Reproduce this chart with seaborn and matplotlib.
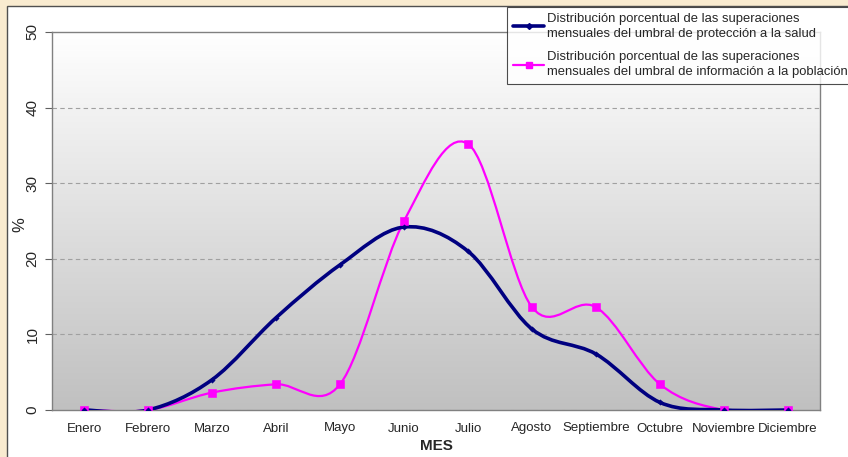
import numpy as np
import pandas as pd
import matplotlib
matplotlib.use("Agg")
import matplotlib.pyplot as plt
import seaborn as sns
from matplotlib.path import Path
from matplotlib.patches import PathPatch, Rectangle
from matplotlib.lines import Line2D

# Data
meses = ["Enero", "Febrero", "Marzo", "Abril", "Mayo", "Junio", "Julio",
         "Agosto", "Septiembre", "Octubre", "Noviembre", "Diciembre"]
salud = [0, 0, 4.0, 12.2, 19.2, 24.2, 21.0, 10.7, 7.4, 1.0, 0, 0]
informacion = [0, 0, 2.3, 3.4, 3.4, 25.0, 35.2, 13.6, 13.6, 3.4, 0, 0]

lbl_salud = ("Distribución porcentual de las superaciones\n"
             "mensuales del umbral de protección a la salud")
lbl_info = ("Distribución porcentual de las superaciones\n"
            "mensuales del umbral de información a la población")

col_salud = "#000080"
col_info = "#ff00ff"

df = pd.DataFrame({"mes": np.arange(len(meses)), "salud": salud, "info": informacion})

sns.set_style("white")
plt.rcParams["font.family"] = ["Liberation Sans", "DejaVu Sans"]

W, H = 848, 457
fig = plt.figure(figsize=(W / 100, H / 100), dpi=100)
fig.patch.set_facecolor("#f9ebd0")
# white chart frame
fig.patches.append(Rectangle((7 / W, -0.05), 1.05, 1 - 6 / H + 0.05, transform=fig.transFigure,
                             facecolor="white", edgecolor="#505050", linewidth=1.0, zorder=-10))

ax = fig.add_axes([52 / W, (H - 410) / H, (820 - 52) / W, (410 - 32) / H])
ax.set_xlim(-0.5, 11.5)
ax.set_ylim(0, 50)

# gradient plot area
grad = np.linspace(1.0, 0.0, 256).reshape(-1, 1)
ax.imshow(grad, extent=(-0.5, 11.5, 0, 50), aspect="auto", origin="upper",
          cmap=matplotlib.colors.LinearSegmentedColormap.from_list("g", ["#c0c0c0", "#ffffff"]),
          zorder=0)


def smooth_path(xs, ys, t=1 / 6):
    pts = np.column_stack([xs, ys]).astype(float)
    n = len(pts)
    verts = [pts[0]]
    codes = [Path.MOVETO]
    for i in range(n - 1):
        p0 = pts[max(i - 1, 0)]
        p1 = pts[i]
        p2 = pts[i + 1]
        p3 = pts[min(i + 2, n - 1)]
        c1 = p1 + (p2 - p0) * t
        c2 = p2 - (p3 - p1) * t
        verts += [c1, c2, p2]
        codes += [Path.CURVE4] * 3
    return Path(verts, codes)


ax.add_patch(PathPatch(smooth_path(df["mes"], df["info"]), fill=False,
                       edgecolor=col_info, linewidth=1.6, zorder=3))
ax.add_patch(PathPatch(smooth_path(df["mes"], df["salud"]), fill=False,
                       edgecolor=col_salud, linewidth=2.6, zorder=4))

sns.scatterplot(data=df, x="mes", y="info", marker="s", color=col_info, s=28,
                edgecolor=col_info, ax=ax, zorder=5, legend=False)
sns.scatterplot(data=df, x="mes", y="salud", marker="D", color=col_salud, s=8,
                edgecolor=col_salud, ax=ax, zorder=6, legend=False)

# grid and spines
for v in [10, 20, 30, 40]:
    ax.axhline(v, color="#a0a0a0", linestyle=(0, (4, 3)), linewidth=0.8, zorder=1)
for s in ax.spines.values():
    s.set_color("#808080")
    s.set_linewidth(1.0)

ax.set_yticks([0, 10, 20, 30, 40, 50])
ax.set_yticklabels(["0", "10", "20", "30", "40", "50"], rotation=90, va="center", fontsize=11)
ax.set_xticks(range(12))
ax.set_xticklabels(meses, fontsize=9.5)
ax.set_xticks(np.arange(-0.5, 12, 1), minor=True)
ax.tick_params(axis="x", which="major", length=0, pad=9)
ax.tick_params(axis="x", which="minor", length=5, color="#606060", direction="out")
ax.tick_params(axis="y", length=5, color="#606060", direction="out", left=True, pad=4)
ax.set_xlabel("MES", fontsize=11, fontweight="bold", labelpad=3)
ax.set_ylabel("%", fontsize=12)
ax.yaxis.set_label_coords(-25 / 768, 0.49)

handles = [Line2D([0], [0], color=col_salud, linewidth=2.6, marker="D", markersize=3),
           Line2D([0], [0], color=col_info, linewidth=1.6, marker="s", markersize=5)]
leg = fig.legend(handles, [lbl_salud, lbl_info], loc="upper left",
                 bbox_to_anchor=(507 / W, 1 - 7 / H), fontsize=9.4, frameon=True,
                 fancybox=False, handlelength=2.4, handletextpad=0.2, borderaxespad=0,
                 borderpad=0.45, labelspacing=0.9)
for t in leg.get_texts():
    t.set_linespacing(1.3)
leg.get_frame().set_edgecolor("#202020")
leg.get_frame().set_linewidth(0.8)
leg.set_zorder(10)

fig.savefig("out.png", dpi=100, facecolor=fig.get_facecolor())
